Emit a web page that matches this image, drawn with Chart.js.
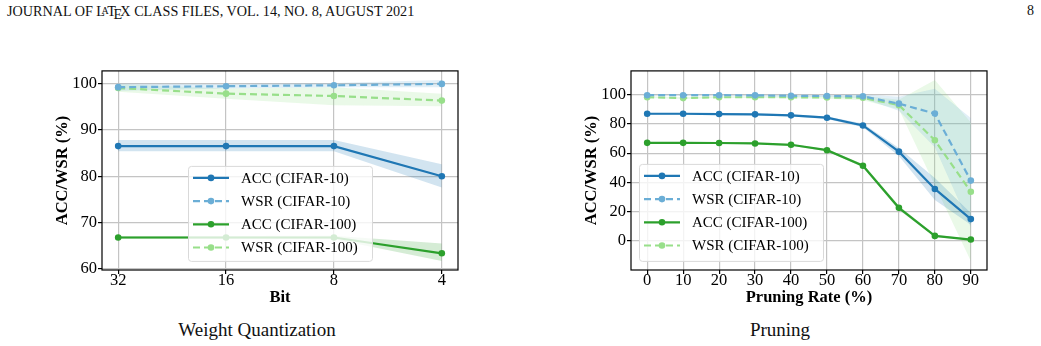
<!DOCTYPE html>
<html lang="en">
<head>
  <meta charset="UTF-8">
  <title>Weight Quantization / Pruning</title>
  <script src="https://cdn.jsdelivr.net/npm/chart.js"></script>
  <style>
    body {
      margin: 0;
      width: 1041px;
      height: 346px;
      position: relative;
      overflow: hidden;
      background: #fff;
      font-family: 'Liberation Serif', 'Times New Roman', serif;
      color: #111;
    }

    .header {
      position: absolute;
      left: 7px;
      top: 3px;
      font-size: 14.2px;
      white-space: nowrap;
    }

    .latex-a {
      font-size: 0.7em;
      vertical-align: 0.22em;
      margin-left: -0.36em;
      margin-right: -0.15em;
    }

    .latex-e {
      position: relative;
      top: 0.22em;
      margin-left: -0.17em;
      margin-right: -0.12em;
    }

    .pageno {
      position: absolute;
      left: 1027px;
      top: 3px;
      font-size: 14px;
    }

    .panel {
      position: absolute;
      top: 60px;
      height: 250px;
    }

    .caption {
      position: absolute;
      top: 319px;
      font-size: 19px;
      white-space: nowrap;
      transform: translateX(-50%);
    }
  </style>
</head>
<body>
  <div class="header">JOURNAL OF L<span class="latex-a">A</span>T<span class="latex-e">E</span>X CLASS FILES, VOL. 14, NO. 8, AUGUST 2021</div>
  <div class="pageno">8</div>

  <div class="panel" style="left:0; width:490px;"><canvas id="quantChart" width="490" height="250"></canvas></div>
  <div class="panel" style="left:520px; width:521px;"><canvas id="pruneChart" width="521" height="250"></canvas></div>

  <div class="caption" style="left:257px;">Weight Quantization</div>
  <div class="caption" style="left:780px;">Pruning</div>

  <script>
    // ---- weight quantization (left) ----
    const bitLabels = ['32', '16', '8', '4'];
    const quantAccC10 = [86.5, 86.5, 86.5, 80.0];
    const quantAccC10Lo = [85.4, 85.4, 85.4, 77.6];
    const quantAccC10Hi = [87.8, 87.8, 87.8, 82.6];
    const quantWsrC10 = [99.2, 99.4, 99.6, 99.9];
    const quantWsrC10Lo = [98.4, 98.9, 99.2, 99.2];
    const quantWsrC10Hi = [100.0, 99.9, 100.1, 100.75];
    const quantAccC100 = [66.8, 66.8, 66.8, 63.4];
    const quantAccC100Lo = [66.5, 66.5, 66.4, 61.75];
    const quantAccC100Hi = [67.1, 67.1, 67.2, 65.5];
    const quantWsrC100 = [99.0, 97.8, 97.3, 96.3];
    const quantWsrC100Lo = [98.2, 96.7, 95.3, 95.1];
    const quantWsrC100Hi = [99.8, 98.9, 99.2, 97.8];

    // ---- pruning (right) ----
    const pruneRates = [0, 10, 20, 30, 40, 50, 60, 70, 80, 90];
    const pruneAccC10 = [86.9, 86.9, 86.7, 86.5, 85.8, 84.2, 78.9, 61.0, 35.5, 14.9];
    const pruneAccC10Lo = [86.3, 86.3, 86.1, 85.9, 85.1, 83.3, 77.6, 58.0, 28.0, 11.0];
    const pruneAccC10Hi = [87.5, 87.5, 87.3, 87.1, 86.5, 85.1, 80.2, 63.5, 43.0, 19.0];
    const pruneWsrC10 = [99.6, 99.6, 99.6, 99.5, 99.2, 99.0, 98.8, 93.8, 87.0, 41.2];
    const pruneWsrC10Lo = [99.2, 99.2, 99.2, 99.1, 98.6, 98.3, 97.3, 89.0, 64.0, 9.0];
    const pruneWsrC10Hi = [100.0, 100.0, 100.0, 99.9, 99.8, 99.7, 100.3, 98.5, 104.0, 84.0];
    const pruneAccC100 = [67.0, 67.0, 66.9, 66.6, 65.7, 62.0, 51.4, 22.6, 3.4, 0.9];
    const pruneAccC100Lo = [66.5, 66.5, 66.4, 66.1, 65.1, 61.3, 50.3, 21.2, 2.6, 0.3];
    const pruneAccC100Hi = [67.5, 67.5, 67.4, 67.1, 66.3, 62.7, 52.5, 24.0, 4.2, 1.5];
    const pruneWsrC100 = [98.2, 97.6, 98.2, 98.2, 98.2, 98.0, 97.8, 92.8, 68.8, 33.6];
    const pruneWsrC100Lo = [97.6, 97.0, 97.6, 97.6, 97.5, 97.2, 96.2, 90.0, 38.0, -13.7];
    const pruneWsrC100Hi = [98.8, 98.2, 98.8, 98.8, 98.9, 98.8, 99.2, 96.5, 110.0, 81.0];

    const quantYTicks = [60, 70, 80, 90, 100];
    const pruneYTicks = [0, 20, 40, 60, 80, 100];

    const seriesNames = ['ACC (CIFAR-10)', 'WSR (CIFAR-10)', 'ACC (CIFAR-100)', 'WSR (CIFAR-100)'];
    const colors = ['#1f77b4', '#6baed6', '#2ca02c', '#98df8a'];
    const bandColors = ['rgba(31,119,180,0.2)', 'rgba(107,174,214,0.2)', 'rgba(44,160,44,0.2)', 'rgba(152,223,138,0.2)'];
    const dashed = [false, true, false, true];

    const serif = "'Liberation Serif', 'Times New Roman', serif";

    function pts(xs, ys) {
      return ys.map((y, i) => ({ x: xs[i], y: y }));
    }

    // lines first (drawn on top), bands after (drawn underneath)
    function buildDatasets(xs, mids, los, his) {
      const lines = mids.map((m, i) => ({
        label: seriesNames[i],
        legend: true,
        data: pts(xs, m),
        borderColor: colors[i],
        backgroundColor: colors[i],
        borderWidth: 2.2,
        borderDash: dashed[i] ? [7, 4] : [],
        pointRadius: 3.3,
        pointBorderWidth: 0,
        pointBackgroundColor: colors[i],
        fill: false,
        tension: 0
      }));
      const bands = [];
      mids.forEach((m, i) => {
        bands.push({
          label: 'hi' + i,
          data: pts(xs, his[i]),
          borderColor: 'transparent',
          pointRadius: 0,
          fill: false
        });
        bands.push({
          label: 'lo' + i,
          data: pts(xs, los[i]),
          borderColor: 'transparent',
          backgroundColor: bandColors[i],
          pointRadius: 0,
          fill: '-1'
        });
      });
      return lines.concat(bands);
    }

    // legend box drawn inside the plot, matplotlib style
    const boxLegend = {
      id: 'boxLegend',
      afterDraw(chart, args, opts) {
        const { ctx, chartArea } = chart;
        const x0 = chartArea.left + opts.x;
        const y0 = chartArea.top + opts.y;
        ctx.save();
        ctx.beginPath();
        ctx.roundRect(x0 + 0.5, y0 + 0.5, opts.w, opts.h, 3);
        ctx.fillStyle = 'rgba(255,255,255,0.8)';
        ctx.fill();
        ctx.strokeStyle = '#d9d9d9';
        ctx.lineWidth = 1;
        ctx.stroke();
        chart.data.datasets.filter(d => d.legend).forEach((d, i) => {
          const y = y0 + 12 + i * 23.2;
          ctx.setLineDash(d.borderDash);
          ctx.strokeStyle = d.borderColor;
          ctx.lineWidth = d.borderWidth;
          ctx.beginPath();
          ctx.moveTo(x0 + 5, y);
          ctx.lineTo(x0 + 41, y);
          ctx.stroke();
          ctx.setLineDash([]);
          ctx.fillStyle = d.borderColor;
          ctx.beginPath();
          ctx.arc(x0 + 23, y, d.pointRadius, 0, Math.PI * 2);
          ctx.fill();
          ctx.fillStyle = '#000';
          ctx.font = '15px ' + serif;
          ctx.textBaseline = 'middle';
          ctx.fillText(d.label, x0 + 53, y + 1);
        });
        ctx.restore();
      }
    };

    // black box around the plot area
    const frame = {
      id: 'frame',
      afterDatasetsDraw(chart) {
        const { ctx, chartArea: a } = chart;
        ctx.save();
        ctx.strokeStyle = '#000';
        ctx.lineWidth = 1.2;
        ctx.strokeRect(a.left, a.top, a.right - a.left, a.bottom - a.top);
        ctx.restore();
      }
    };

    function makeOptions(cfg) {
      return {
        responsive: false,
        animation: false,
        layout: { padding: cfg.padding },
        plugins: {
          legend: { display: false },
          tooltip: { enabled: false },
          filler: { drawTime: 'beforeDatasetsDraw' },
          boxLegend: cfg.legend
        },
        scales: {
          x: {
            type: 'linear',
            min: cfg.xMin,
            max: cfg.xMax,
            afterBuildTicks: s => { s.ticks = cfg.xTicks.map(v => ({ value: v })); },
            afterFit: s => { s.height = 40; },
            ticks: {
              color: '#000',
              font: { family: serif, size: 16.5 },
              padding: -3,
              maxRotation: 0,
              callback: cfg.xLabel
            },
            grid: { color: '#c4c4c4', lineWidth: 1.2, tickColor: '#000', tickLength: 4 },
            border: { display: false },
            title: {
              display: true,
              text: cfg.xTitle,
              color: '#000',
              font: { family: serif, size: 16.5, weight: 'bold' },
              padding: { top: 0, bottom: 2 }
            }
          },
          y: {
            min: cfg.yMin,
            max: cfg.yMax,
            afterBuildTicks: s => { s.ticks = cfg.yTicks.map(v => ({ value: v })); },
            afterFit: s => { s.width = cfg.yWidth; },
            ticks: {
              color: '#000',
              font: { family: serif, size: 16.5 },
              padding: 1
            },
            grid: { color: '#c4c4c4', lineWidth: 1.2, tickColor: '#000', tickLength: 4 },
            border: { display: false },
            title: {
              display: true,
              text: 'ACC/WSR (%)',
              color: '#000',
              font: { family: serif, size: 16.5, weight: 'bold' },
              padding: { top: cfg.yTitlePad, bottom: 0 }
            }
          }
        }
      };
    }

    const quantX = bitLabels.map((b, i) => i);

    new Chart(document.getElementById('quantChart'), {
      type: 'line',
      data: {
        datasets: buildDatasets(
          quantX,
          [quantAccC10, quantWsrC10, quantAccC100, quantWsrC100],
          [quantAccC10Lo, quantWsrC10Lo, quantAccC100Lo, quantWsrC100Lo],
          [quantAccC10Hi, quantWsrC10Hi, quantAccC100Hi, quantWsrC100Hi]
        )
      },
      options: makeOptions({
        padding: { top: 10, right: 32, left: 0, bottom: 0 },
        xMin: -0.15, xMax: 3.15,
        xTicks: quantX,
        xLabel: v => bitLabels[v],
        xTitle: 'Bit',
        yMin: 59.8, yMax: 102.7,
        yTicks: quantYTicks,
        yWidth: 102,
        yTitlePad: 53,
        legend: { x: 86, y: 95, w: 184, h: 95 }
      }),
      plugins: [frame, boxLegend]
    });

    new Chart(document.getElementById('pruneChart'), {
      type: 'line',
      data: {
        datasets: buildDatasets(
          pruneRates,
          [pruneAccC10, pruneWsrC10, pruneAccC100, pruneWsrC100],
          [pruneAccC10Lo, pruneWsrC10Lo, pruneAccC100Lo, pruneWsrC100Lo],
          [pruneAccC10Hi, pruneWsrC10Hi, pruneAccC100Hi, pruneWsrC100Hi]
        )
      },
      options: makeOptions({
        padding: { top: 10, right: 54, left: 0, bottom: 0 },
        xMin: -4.5, xMax: 94.5,
        xTicks: pruneRates,
        xLabel: v => String(v),
        xTitle: 'Pruning Rate (%)',
        yMin: -19.9, yMax: 116.2,
        yTicks: pruneYTicks,
        yWidth: 111,
        yTitlePad: 62,
        legend: { x: 8, y: 93, w: 184, h: 97 }
      }),
      plugins: [frame, boxLegend]
    });
  </script>
</body>
</html>
